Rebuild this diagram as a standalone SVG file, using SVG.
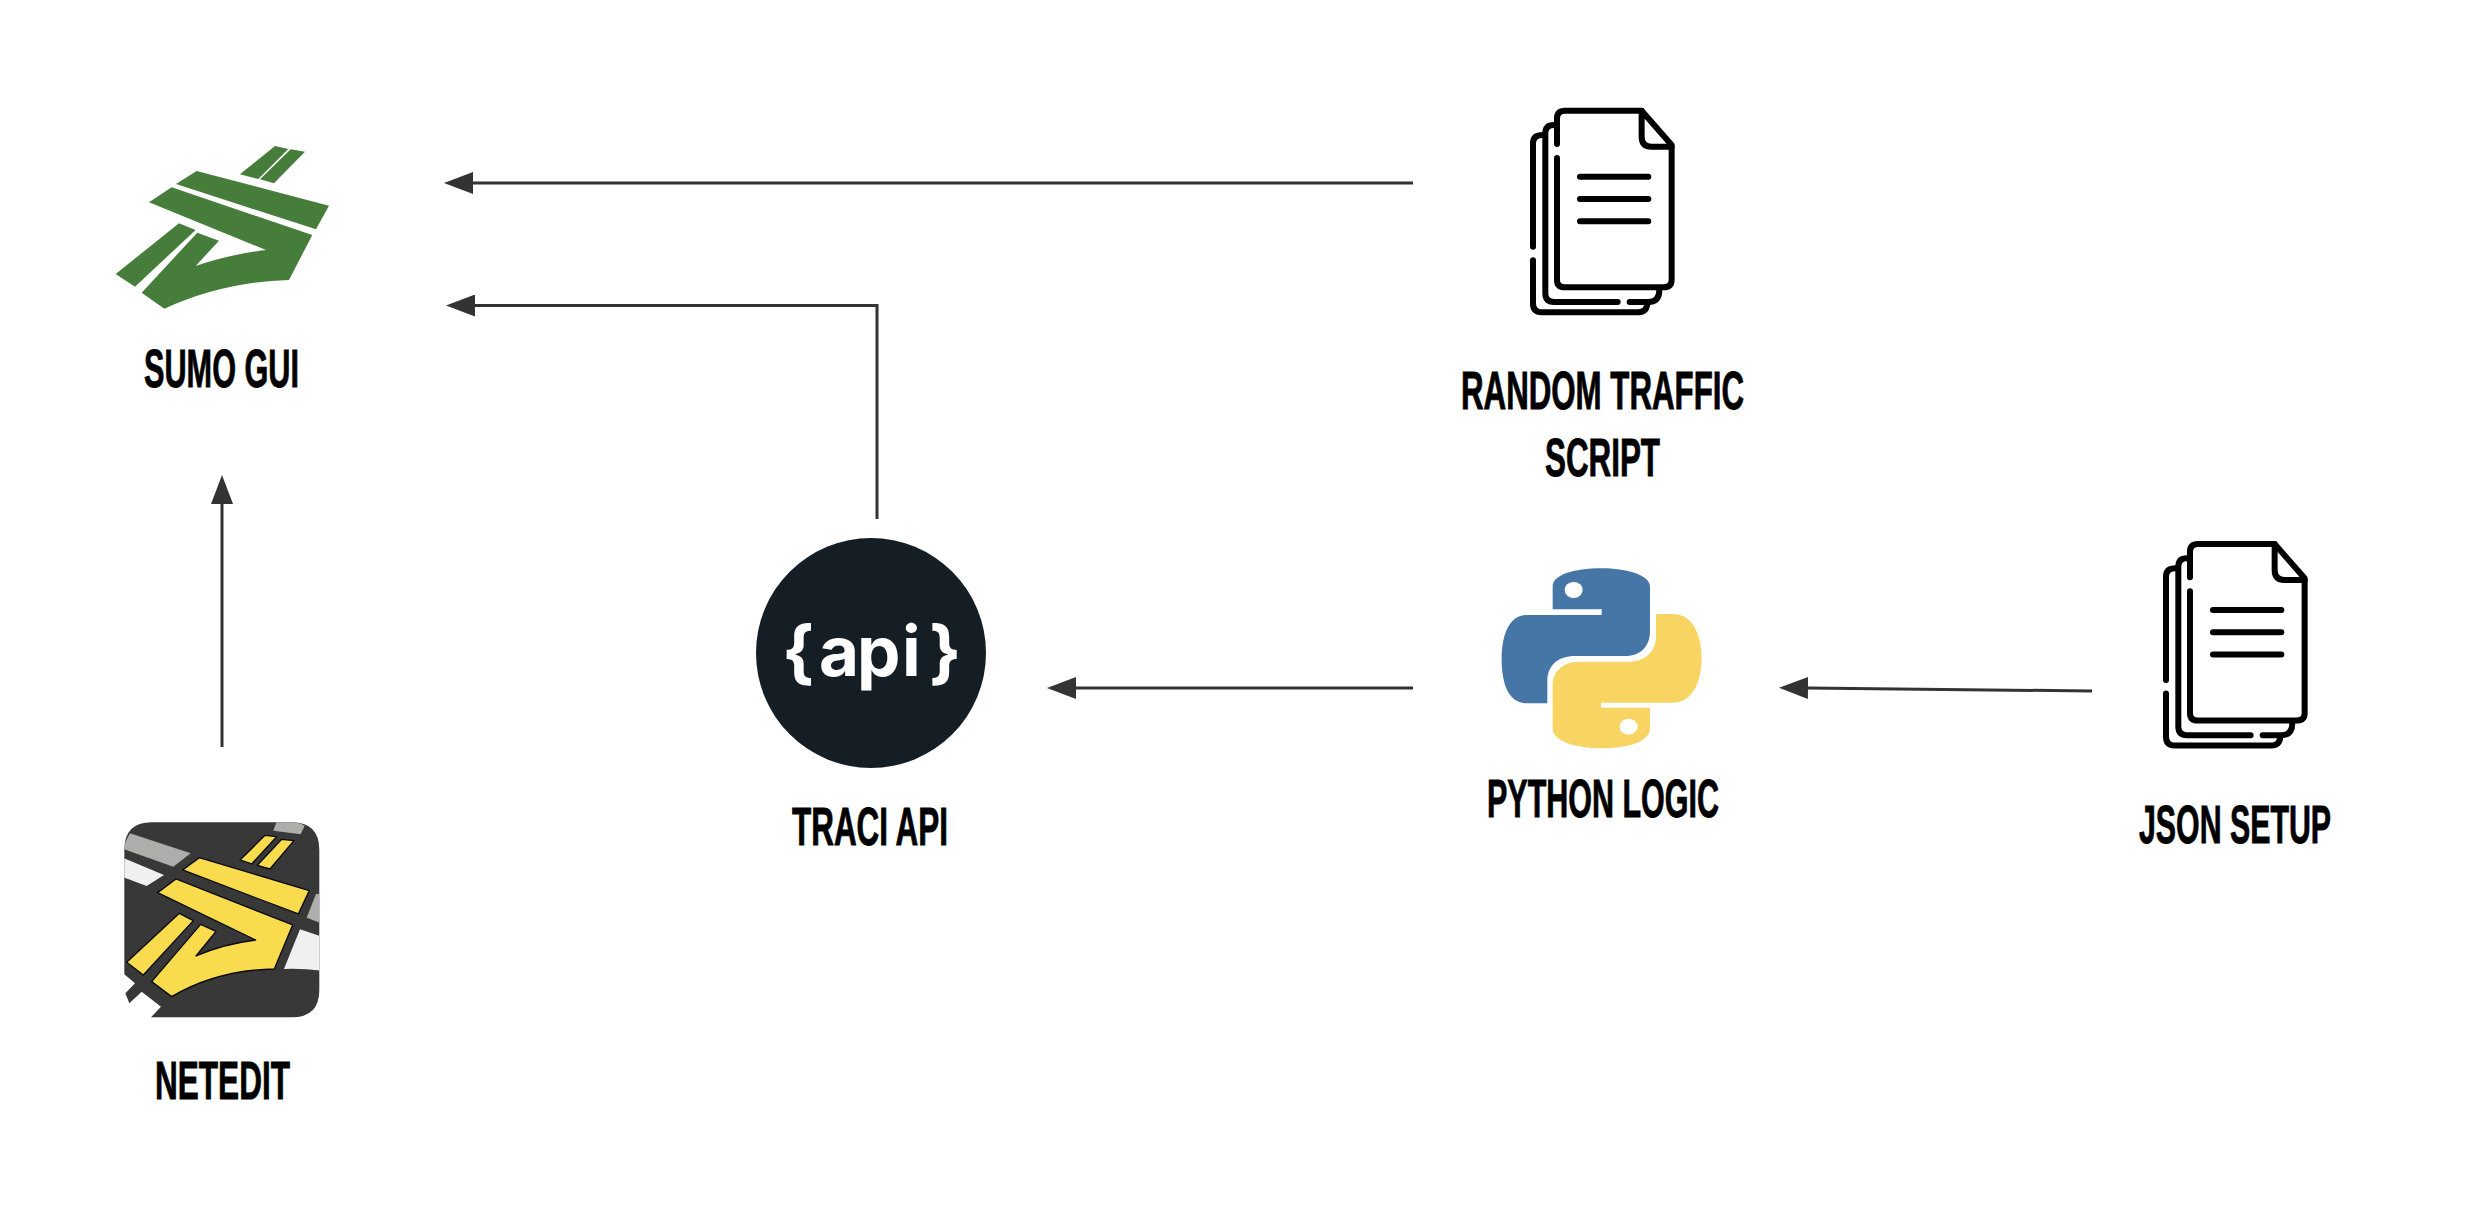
<svg xmlns="http://www.w3.org/2000/svg" xmlns:xlink="http://www.w3.org/1999/xlink" width="2478" height="1216" viewBox="0 0 2478 1216">
<style>
.lbl{font-family:"Liberation Sans",Arial,sans-serif;font-weight:700;font-size:54px;fill:#000;stroke:#000;stroke-width:.9px;paint-order:stroke}
.conn{fill:none;stroke:#333;stroke-width:3}
.doc{fill:none;stroke:#000;stroke-width:18;stroke-linecap:round;stroke-linejoin:round}
.road{fill:#f9dc4e;stroke:#0a0a0a;stroke-width:4;stroke-linejoin:round}
</style>
<defs>
<marker id="head" markerUnits="userSpaceOnUse" markerWidth="30" markerHeight="22" refX="1" refY="11" orient="auto"><path d="M0,0 L29,11 L0,22 Z" fill="#333"/></marker>
<clipPath id="ne"><rect x="103" y="97" width="585" height="585" rx="82"/></clipPath>
<g id="docs">
<path class="doc" d="M381,162 V85 Q381,62 405,62 H635 L725,165 V570 Q725,592 700,592 H405 Q381,592 381,570 V204"/>
<path class="doc" d="M635,62 V140 Q635,170 665,170 H725"/>
<path class="doc" d="M450,260 H655 M450,327 H655 M450,394 H655"/>
<path class="doc" d="M372,105 Q346,105 346,130 V610 Q346,636 372,636 H563 M599,636 H655 Q688,636 688,600"/>
<path class="doc" d="M338,135 Q309,135 309,160 V470 M309,511 V640 Q309,667 335,667 H625 Q650,667 652,640"/>
</g>
</defs>
<rect width="2478" height="1216" fill="#fff"/>
<g id="connectors">
<path class="conn" d="M1413,183 H472" marker-end="url(#head)"/>
<path class="conn" d="M877,519 V305.5 H474" marker-end="url(#head)"/>
<path class="conn" d="M222,747 V503" marker-end="url(#head)"/>
<path class="conn" d="M1413,688 H1075" marker-end="url(#head)"/>
<path class="conn" d="M2092,691 L1807,688" marker-end="url(#head)"/>
</g>
<g id="sumo-gui">
<g transform="translate(80 110) scale(.3333)" fill="#477d3b">
<path d="M585,108 L625,117 L535,207 L480,193 Z"/>
<path d="M632,118 L675,125 L582,220 L540,208 Z"/>
<path d="M350,183 L747,287 L708,358 L288,222 Z"/>
<path d="M275,232 L697,375 L627,510 Q430,515 253,596 L185,548 L352,368 L417,392 L347,468 Q440,435 558,420 L207,277 Z"/>
<path d="M297,340 L347,360 L165,530 L107,492 Z"/>
</g>
<text class="lbl" x="144" y="387" textLength="155" lengthAdjust="spacingAndGlyphs">SUMO GUI</text>
</g>
<g id="netedit">
<g transform="translate(90 790) scale(.3333)">
<path fill="#383838" d="M103,180 Q103,97 185,97 H605 Q688,97 688,180 V600 Q688,682 605,682 H183 L213,650 L155,605 L118,640 L106,610 L135,580 L103,553 Z"/>
<g clip-path="url(#ne)">
<path fill="#adadab" d="M120,130 L302,190 L250,230 L95,175 Z"/>
<path fill="#f0f0f0" d="M95,202 L222,255 L170,288 L95,260 Z"/>
<path fill="#adadab" d="M560,95 L650,95 L632,133 L550,122 Z"/>
<path fill="#adadab" d="M678,312 L695,312 L695,400 L650,383 Z"/>
<path fill="#f0f0f0" d="M630,418 L695,440 L695,542 Q640,535 582,537 Z"/>
</g>
<path class="road" d="M525,136 L560,140 L485,222 L450,210 Z"/>
<path class="road" d="M575,148 L612,152 L540,237 L502,226 Z"/>
<path class="road" d="M328,203 L658,302 L625,372 L278,240 Z"/>
<path class="road" d="M258,267 L608,405 L553,537 Q380,540 245,620 L185,575 L332,403 L378,424 L318,498 Q400,462 497,450 L203,308 Z"/>
<path class="road" d="M268,370 L310,392 L160,555 L110,517 Z"/>
</g>
<text class="lbl" x="155" y="1099" textLength="135" lengthAdjust="spacingAndGlyphs">NETEDIT</text>
</g>
<g id="random-traffic-script">
<use xlink:href="#docs" href="#docs" transform="translate(1430 90) scale(.3333)"/>
<text class="lbl" x="1461" y="409" textLength="283" lengthAdjust="spacingAndGlyphs">RANDOM TRAFFIC</text>
<text class="lbl" x="1545" y="476" textLength="115" lengthAdjust="spacingAndGlyphs">SCRIPT</text>
</g>
<g id="json-setup">
<use xlink:href="#docs" href="#docs" transform="translate(2063 523.3) scale(.3333)"/>
<text class="lbl" x="2139" y="843" textLength="192" lengthAdjust="spacingAndGlyphs">JSON SETUP</text>
</g>
<g id="python-logic">
<g transform="translate(1460 550) scale(.3333)">
<path fill="#4676a5" d="M278,178 H425 V195 H200 C150,195 125,250 125,328 C125,410 150,460 200,460 H262 V395 C262,345 295,318 345,318 H495 C545,318 570,285 570,245 V110 C570,75 500,55 425,55 C340,55 278,75 278,110 Z"/>
<ellipse cx="341" cy="120" rx="27" ry="24" fill="#fff"/>
<path fill="#f8d463" d="M570,473 H423 V458 H640 C695,458 725,400 725,325 C725,250 695,192 640,192 H588 V260 C588,305 555,335 505,335 H355 C310,335 278,365 278,405 V535 C278,575 350,595 425,595 C505,595 570,575 570,535 Z"/>
<ellipse cx="506" cy="530" rx="27" ry="24" fill="#fff"/>
</g>
<text class="lbl" x="1487" y="817" textLength="232" lengthAdjust="spacingAndGlyphs">PYTHON LOGIC</text>
</g>
<g id="traci-api">
<circle cx="871" cy="653" r="115" fill="#161e25"/>
<text font-family="Inter,'Open Sans',sans-serif" font-weight="700" font-size="69" fill="#fff" y="676" x="782 810 819 857 902 922 929">{ api }</text>
<text class="lbl" x="792" y="845" textLength="156" lengthAdjust="spacingAndGlyphs">TRACI API</text>
</g>
</svg>
